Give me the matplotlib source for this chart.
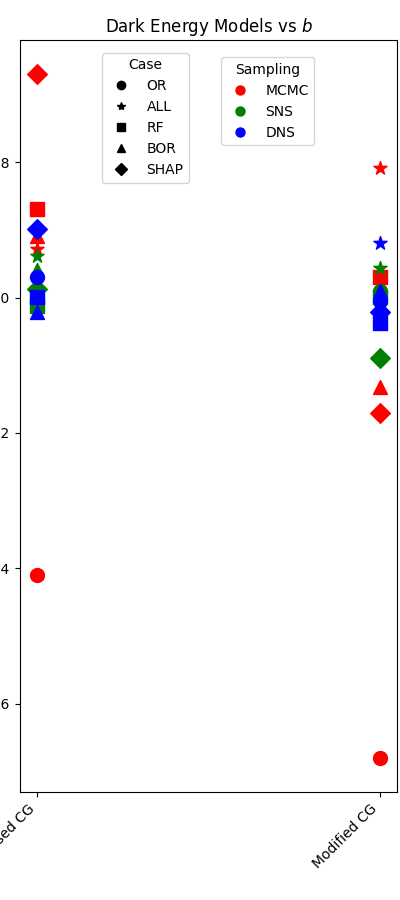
import matplotlib
matplotlib.use("Agg")
import matplotlib.pyplot as plt
from matplotlib.lines import Line2D

models = ["Generalised CG", "Modified CG"]
cases = ["OR", "ALL", "RF", "BOR", "SHAP"]
samplings = ["MCMC", "SNS", "DNS"]
colors = {"MCMC": "red", "SNS": "green", "DNS": "blue"}
markers = {"OR": "o", "ALL": "*", "RF": "s", "BOR": "^", "SHAP": "D"}

# values of b, ordered as cases: OR, ALL, RF, BOR, SHAP
gcg_mcmc = [-0.2410, -0.1928, -0.1869, -0.1909, -0.1670]
gcg_sns = [-0.2005, -0.1939, -0.2013, -0.1959, -0.1987]
gcg_dns = [-0.1970, -0.2000, -0.1999, -0.2021, -0.1899]
mcg_mcmc = [-0.2680, -0.1809, -0.1970, -0.2132, -0.2170]
mcg_sns = [-0.1991, -0.1956, -0.1999, -0.1991, -0.2089]
mcg_dns = [-0.2005, -0.1920, -0.2038, -0.1990, -0.2021]

data = {
    "Generalised CG": {"MCMC": gcg_mcmc, "SNS": gcg_sns, "DNS": gcg_dns},
    "Modified CG": {"MCMC": mcg_mcmc, "SNS": mcg_sns, "DNS": mcg_dns},
}
yticks = [-0.26, -0.24, -0.22, -0.20, -0.18]

fig = plt.figure(figsize=(4, 9), dpi=100)
ax = fig.add_axes([0.05, 0.12, 0.9425, 0.8356])

for i, m in enumerate(models):
    for s in samplings:
        for c, v in zip(cases, data[m][s]):
            ax.scatter(i, v, color=colors[s], marker=markers[c], s=100)

ax.set_xticks(range(len(models)))
ax.set_xticklabels(models, rotation=45, ha="right")
ax.set_yticks(yticks)
ax.set_title("Dark Energy Models vs $b$")

case_handles = [Line2D([0], [0], marker=markers[c], color="black", linestyle="none",
                       markersize=6) for c in cases]
leg1 = ax.legend(case_handles, cases, title="Case", loc="upper left",
                 bbox_to_anchor=(0.2175, 0.983), borderaxespad=0)
ax.add_artist(leg1)
samp_handles = [Line2D([0], [0], marker="o", color=colors[s], linestyle="none",
                       markersize=6.5) for s in samplings]
ax.legend(samp_handles, samplings, title="Sampling", loc="upper left",
          bbox_to_anchor=(0.533, 0.977), borderaxespad=0)

fig.savefig("out.png", dpi=100)
